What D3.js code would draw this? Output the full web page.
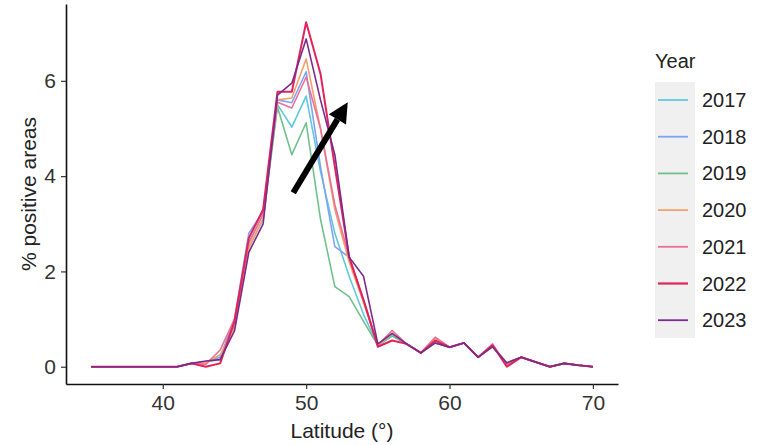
<!DOCTYPE html>
<html>
<head>
<meta charset="utf-8">
<script src="https://cdn.jsdelivr.net/npm/d3@7"></script>
<style>
  body { margin: 0; background: #fff; }
  text { font-family: "Liberation Sans", Arial, sans-serif; }
</style>
</head>
<body>
<div id="chart"></div>
<script>
var latitudes = d3.range(35, 71);
var years = ["2017", "2018", "2019", "2020", "2021", "2022", "2023"];
var yearColors = ["#5fc9dc", "#7fa3f2", "#72c08e", "#f3a06c", "#ec7096", "#e3225c", "#7a2c8c"];

// % positive areas per latitude, 35..70
var v2017 = [0,0,0,0,0,0,0, 0.07,0.10,0.20,0.90,2.60,3.20,5.50,5.03,5.68,4.10,2.80,1.90,1.10,
  0.45,0.65,0.48,0.29,0.55,0.41,0.50,0.20,0.42,0.08,0.20,0.10,0.00,0.07,0.03,0.00];
var v2018 = [0,0,0,0,0,0,0, 0.07,0.10,0.20,1.00,2.80,3.25,5.60,5.54,6.19,4.20,2.52,2.30,1.40,
  0.45,0.65,0.48,0.29,0.50,0.41,0.50,0.20,0.42,0.08,0.20,0.10,0.00,0.07,0.03,0.00];
var v2019 = [0,0,0,0,0,0,0, 0.07,0.10,0.15,0.85,2.50,3.10,5.45,4.45,5.12,3.10,1.68,1.47,0.95,
  0.45,0.65,0.48,0.29,0.50,0.41,0.50,0.20,0.42,0.08,0.20,0.10,0.00,0.07,0.03,0.00];
var v2020 = [0,0,0,0,0,0,0, 0.07,0.08,0.25,0.80,2.50,3.10,5.60,5.64,6.46,5.00,3.30,2.20,1.35,
  0.45,0.70,0.48,0.29,0.60,0.41,0.50,0.20,0.42,0.08,0.20,0.10,0.00,0.07,0.03,0.00];
var v2021 = [0,0,0,0,0,0,0, 0.07,0.05,0.35,1.00,2.60,3.20,5.55,5.43,6.08,5.00,3.40,2.30,1.40,
  0.45,0.76,0.48,0.29,0.62,0.41,0.50,0.20,0.48,0.03,0.20,0.10,0.00,0.07,0.03,0.00];
var v2022 = [0,0,0,0,0,0,0, 0.07,0.00,0.07,0.95,2.70,3.30,5.77,5.77,7.23,6.15,4.20,2.30,1.40,
  0.42,0.55,0.48,0.29,0.55,0.41,0.50,0.20,0.45,0.00,0.20,0.10,0.00,0.07,0.03,0.00];
var v2023 = [0,0,0,0,0,0,0, 0.07,0.12,0.15,0.75,2.40,3.00,5.70,5.95,6.88,5.60,4.45,2.30,1.90,
  0.48,0.70,0.48,0.29,0.50,0.41,0.50,0.20,0.42,0.08,0.20,0.10,0.00,0.07,0.03,0.00];
var seriesValues = [v2017, v2018, v2019, v2020, v2021, v2022, v2023];

var xTicks = [40, 50, 60, 70];
var yTicks = [0, 2, 4, 6];
var arrowFrom = [49.1, 3.65];
var arrowTo = [52.9, 5.55];

var width = 761, height = 445;
var svg = d3.select("#chart").append("svg")
  .attr("width", width).attr("height", height);

var x = d3.scaleLinear().domain([33.25, 71.75]).range([66, 618]);
var y = d3.scaleLinear().domain([-0.3625, 7.6125]).range([384, 4]);

// lines
var line = d3.line()
  .x(function(d, i) { return x(latitudes[i]); })
  .y(function(d) { return y(d); });

seriesValues.forEach(function(vals, k) {
  svg.append("path")
    .attr("d", line(vals))
    .attr("fill", "none")
    .attr("stroke", yearColors[k])
    .attr("stroke-width", k === 5 ? 2 : 1.6)
    .attr("stroke-linejoin", "round");
});

// axes
var xAxis = svg.append("g")
  .attr("transform", "translate(0,384)")
  .call(d3.axisBottom(x).tickValues(xTicks).tickSize(5).tickPadding(6).tickSizeOuter(0));
var yAxis = svg.append("g")
  .attr("transform", "translate(66,0)")
  .call(d3.axisLeft(y).tickValues(yTicks).tickSize(5).tickPadding(5).tickSizeOuter(0));

[xAxis, yAxis].forEach(function(a) {
  a.select(".domain").attr("stroke", "#111").attr("stroke-width", 1.6);
  a.selectAll(".tick line").attr("stroke", "#333").attr("stroke-width", 1.2);
  a.selectAll(".tick text").attr("fill", "#333").style("font-size", "21px")
    .style("font-family", "'Liberation Sans', Arial, sans-serif");
});

svg.append("text")
  .attr("x", 342).attr("y", 438)
  .attr("text-anchor", "middle")
  .attr("fill", "#222")
  .style("font-size", "21px")
  .text("Latitude (°)");

svg.append("text")
  .attr("transform", "translate(36,194) rotate(-90)")
  .attr("text-anchor", "middle")
  .attr("fill", "#222")
  .style("font-size", "21px")
  .text("% positive areas");

// arrow
var ax0 = x(arrowFrom[0]), ay0 = y(arrowFrom[1]);
var ax1 = x(arrowTo[0]), ay1 = y(arrowTo[1]);
var ang = Math.atan2(ay1 - ay0, ax1 - ax0);
var headLen = 20, headW = 10;
var bx = ax1 - headLen * Math.cos(ang), by = ay1 - headLen * Math.sin(ang);
svg.append("line")
  .attr("x1", ax0).attr("y1", ay0).attr("x2", bx).attr("y2", by)
  .attr("stroke", "#000").attr("stroke-width", 6);
svg.append("path")
  .attr("d", "M" + ax1 + "," + ay1 +
    "L" + (bx + headW * Math.sin(ang)) + "," + (by - headW * Math.cos(ang)) +
    "L" + (bx - headW * Math.sin(ang)) + "," + (by + headW * Math.cos(ang)) + "Z")
  .attr("fill", "#000");

// legend
var legend = svg.append("g");
legend.append("text")
  .attr("x", 655).attr("y", 68)
  .attr("fill", "#222")
  .style("font-size", "20px")
  .text("Year");
legend.append("rect")
  .attr("x", 655).attr("y", 82).attr("width", 40).attr("height", 256)
  .attr("fill", "#f0f0f0");
years.forEach(function(yr, k) {
  var cy = 100 + k * 36.7;
  legend.append("line")
    .attr("x1", 658).attr("x2", 688).attr("y1", cy).attr("y2", cy)
    .attr("stroke", yearColors[k]).attr("stroke-width", k === 5 ? 2.2 : 1.8);
  legend.append("text")
    .attr("x", 702).attr("y", cy + 7)
    .attr("fill", "#222")
    .style("font-size", "20px")
    .text(yr);
});
</script>
</body>
</html>
